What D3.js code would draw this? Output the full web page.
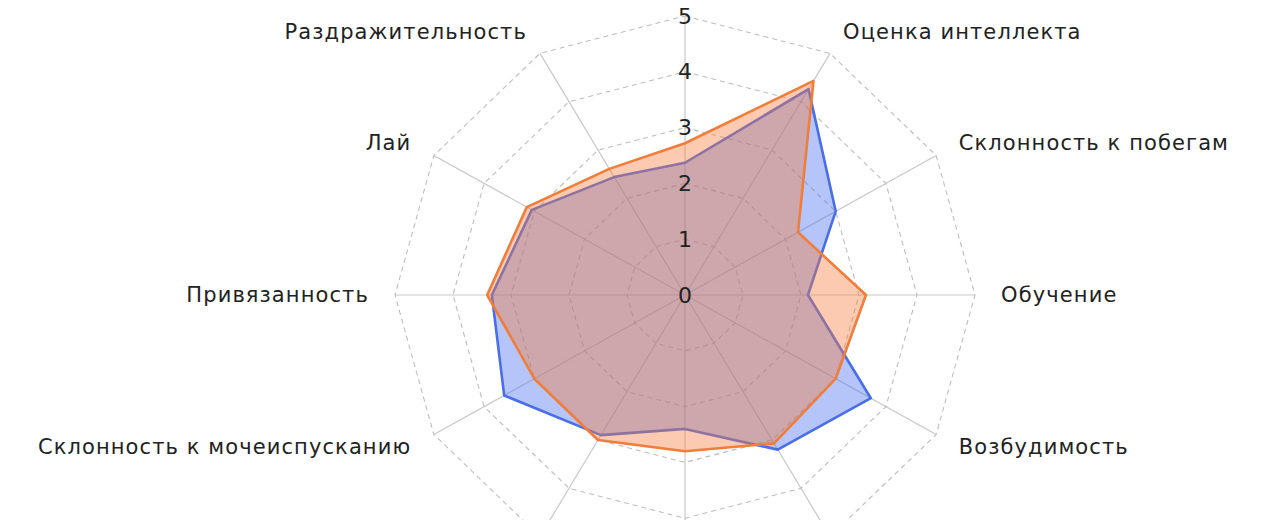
<!DOCTYPE html>
<html>
<head>
<meta charset="utf-8">
<script src="https://cdn.jsdelivr.net/npm/d3@7"></script>
<style>
  body { margin: 0; background: #fff; }
  text { font-family: "DejaVu Sans", sans-serif; fill: #222; }
</style>
</head>
<body>
<svg id="chart" width="1280" height="520"></svg>
<script>
// axes clockwise from the top
var axes = ["Активность", "Оценка интеллекта", "Склонность к побегам", "Обучение",
            "Возбудимость", "Игривость", "Дружелюбие", "Агрессивность",
            "Склонность к мочеиспусканию", "Привязанность", "Лай", "Раздражительность"]
var blueValues   = [2.37, 4.26, 3.0, 2.12, 3.7, 3.2, 2.4, 2.9, 3.6, 3.33, 3.05, 2.44]
var orangeValues = [2.72, 4.43, 2.25, 3.12, 3.0, 3.07, 2.8, 3.0, 3.0, 3.41, 3.15, 2.61]
var ticks = [0, 1, 2, 3, 4, 5]

var svg = d3.select("#chart")
var cx = 685, cy = 295
// picture is a bit wider than tall
var rx = d3.scaleLinear().domain([0, 5]).range([0, 290])
var ry = d3.scaleLinear().domain([0, 5]).range([0, 279])
var ang = d3.scaleLinear().domain([0, axes.length]).range([0, 2 * Math.PI])

function px(i, v) { return cx + rx(v) * Math.sin(ang(i)) }
function py(i, v) { return cy - ry(v) * Math.cos(ang(i)) }

var g = svg.append("g")

// spokes
g.selectAll(".spoke")
  .data(axes)
  .enter()
  .append("line")
  .attr("x1", cx).attr("y1", cy)
  .attr("x2", function (d, i) { return px(i, 5) })
  .attr("y2", function (d, i) { return py(i, 5) })
  .attr("stroke", "#c8c8c8")
  .attr("stroke-width", 1.2)

// dashed rings
var ring = d3.line()
  .x(function (d) { return d[0] })
  .y(function (d) { return d[1] })
  .curve(d3.curveLinearClosed)

g.selectAll(".ring")
  .data(ticks.filter(function (t) { return t > 0 }))
  .enter()
  .append("path")
  .attr("d", function (t) {
    return ring(axes.map(function (a, i) { return [px(i, t), py(i, t)] }))
  })
  .attr("fill", "none")
  .attr("stroke", "#bdbdbd")
  .attr("stroke-width", 1.1)
  .attr("stroke-dasharray", "5,4")

// series: blue first, orange on top
var series = [
  { values: blueValues, stroke: "#4a6ee6", fill: "rgb(70,110,240)" },
  { values: orangeValues, stroke: "#f07d3a", fill: "rgb(245,122,60)" }
]

series.forEach(function (s) {
  var pts = s.values.map(function (v, i) { return [px(i, v), py(i, v)] })
  g.append("path")
    .attr("d", ring(pts))
    .attr("fill", s.fill)
    .attr("fill-opacity", 0.4)
    .attr("stroke", s.stroke)
    .attr("stroke-width", 2.6)
    .attr("stroke-linejoin", "round")
})

// tick numbers on the top spoke
g.selectAll(".tick")
  .data(ticks)
  .enter()
  .append("text")
  .attr("x", cx)
  .attr("y", function (t) { return cy - ry(t) })
  .attr("text-anchor", "middle")
  .attr("dominant-baseline", "central")
  .style("font-size", "22px")
  .text(function (t) { return t })

// axis names
g.selectAll(".lbl")
  .data(axes)
  .enter()
  .append("text")
  .attr("x", function (d, i) { return px(i, 5.45) })
  .attr("y", function (d, i) { return py(i, 5.45) })
  .attr("text-anchor", function (d, i) {
    var s = Math.sin(ang(i))
    return s > 0.01 ? "start" : (s < -0.01 ? "end" : "middle")
  })
  .attr("dominant-baseline", "central")
  .style("font-size", "21px")
  .style("letter-spacing", "1.1px")
  .text(function (d) { return d })
</script>
</body>
</html>
